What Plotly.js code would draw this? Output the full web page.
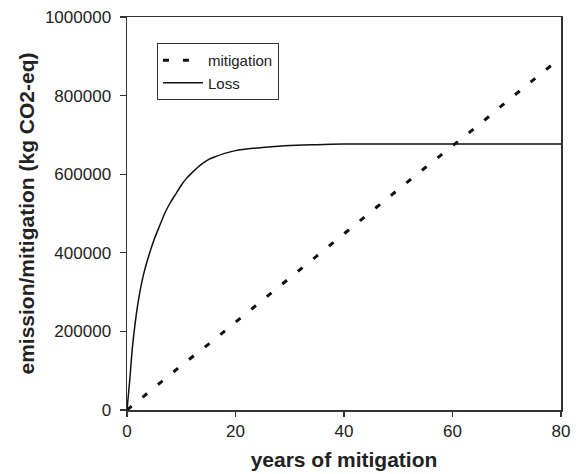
<!DOCTYPE html>
<html>
<head>
<meta charset="utf-8">
<script src="https://cdn.plot.ly/plotly-3.0.1.min.js"></script>
<style>html,body{margin:0;padding:0;background:#fff;}#chart{width:580px;height:474px;}</style>
</head>
<body>
<div id="chart"></div>
<script>
// years of mitigation
const mitigationYears = [0, 5, 10, 15, 20, 25, 30, 35, 40, 45, 50, 55, 60, 65, 70, 75, 80];
const mitigationValues = [0, 57000, 113000, 167000, 224000, 281000, 336000, 392000, 449000, 504000, 561000, 617000, 672000, 727000, 785000, 840000, 897000];

const lossYears = [0, 0.5, 1, 2, 3, 4, 5, 6, 7, 8, 9, 10, 11, 12, 13, 14, 15, 16, 18, 20, 22, 25, 30, 35, 40, 50, 60, 70, 80];
const lossValues = [0, 75000, 160000, 270000, 342000, 392000, 434000, 468000, 502000, 528000, 550000, 572000, 590000, 604000, 617000, 628000, 637000, 643000, 653000, 660000, 664000, 668000, 673000, 675000, 677000, 677000, 677000, 677000, 677000];

const xTicks = [0, 20, 40, 60, 80];
const yTicks = [0, 200000, 400000, 600000, 800000, 1000000];

const font = 'Liberation Sans, Arial, sans-serif';

const traces = [
  {
    x: mitigationYears, y: mitigationValues, name: 'mitigation',
    mode: 'lines', line: {color: '#111', width: 3, dash: '6px,14px'}
  },
  {
    x: lossYears, y: lossValues, name: 'Loss',
    mode: 'lines', line: {color: '#111', width: 1.5, shape: 'spline', smoothing: 0.5}
  }
];

const layout = {
  width: 580, height: 474,
  margin: {l: 127, r: 19, t: 17, b: 64},
  paper_bgcolor: '#fff', plot_bgcolor: '#fff',
  font: {family: font, size: 17, color: '#222'},
  showlegend: true,
  legend: {
    x: 0.069, y: 0.934, xanchor: 'left', yanchor: 'top',
    bordercolor: '#333', borderwidth: 1, bgcolor: '#fff',
    font: {family: font, size: 15, color: '#222'},
    tracegroupgap: 0, itemwidth: 40
  },
  xaxis: {
    range: [0, 80], tickvals: xTicks, ticktext: xTicks.map(String),
    ticks: 'outside', ticklen: 5, tickcolor: '#333', tickwidth: 1.2,
    showline: true, linecolor: '#333', linewidth: 1.5, mirror: true,
    showgrid: false, zeroline: false,
    tickfont: {family: font, size: 17, color: '#222'},
    title: {text: '<b>years of mitigation</b>', font: {family: font, size: 21, color: '#222'}, standoff: 12}
  },
  yaxis: {
    range: [0, 1000000], tickvals: yTicks, ticktext: yTicks.map(String),
    ticks: 'outside', ticklen: 6, tickcolor: '#333', tickwidth: 1.2, ticklabelstandoff: 5,
    showline: true, linecolor: '#333', linewidth: 1.5, mirror: true,
    showgrid: false, zeroline: false,
    tickfont: {family: font, size: 17, color: '#222'},
    title: {text: '<b>emission/mitigation (kg CO2-eq)</b>', font: {family: font, size: 21, color: '#222'}, standoff: 4}
  }
};

Plotly.newPlot('chart', traces, layout, {displayModeBar: false, staticPlot: true});
</script>
</body>
</html>
